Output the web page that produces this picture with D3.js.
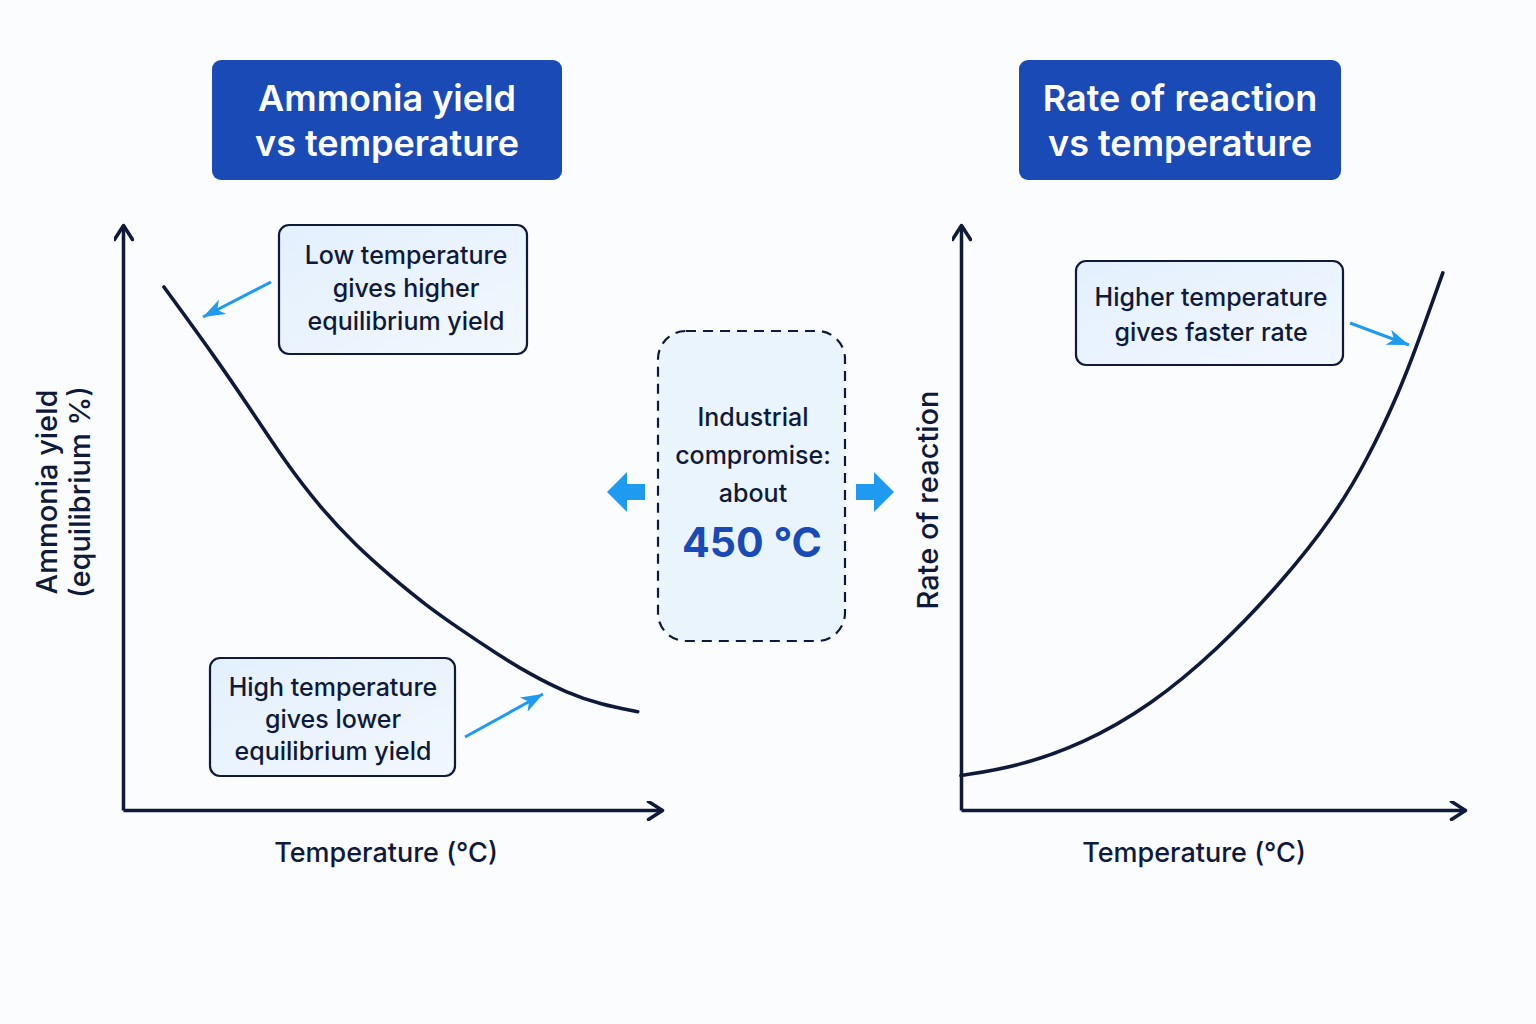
<!DOCTYPE html>
<html>
<head>
<meta charset="utf-8">
<script src="https://cdn.jsdelivr.net/npm/d3@7"></script>
<style>
  body { margin: 0; background: #fbfcfd; }
  svg { display: block; font-family: Inter, "Noto Sans", sans-serif; }
</style>
</head>
<body>
<div id="chart"></div>
<script>
// yield curve (temperature in arbitrary 0-100 units, yield in %)
var yieldTemp = [7.6, 17.1, 23.6, 30.1, 36.5, 43.2, 49.7, 56.2, 62.7, 69.2, 75.7, 82.2, 88.7, 95.5];
var yieldValue = [89.4, 77.4, 68.6, 59.5, 51.8, 45.2, 39.9, 35.0, 30.8, 26.8, 23.1, 20.1, 18.0, 16.8];

// rate curve
var rateTemp = [0, 11.1, 24.2, 37.5, 50.8, 63.9, 73.8, 80.6, 87.1, 90.5, 95.6];
var rateValue = [5.9, 7.4, 11.3, 17.8, 27.3, 39.2, 50.0, 59.8, 71.8, 79.5, 91.8];

var titles = [["Ammonia yield", "vs temperature"], ["Rate of reaction", "vs temperature"]];
var xLabel = "Temperature (°C)";
var yLabels = [["Ammonia yield", "(equilibrium %)"], ["Rate of reaction"]];
var notes = [
    ["Low temperature", "gives higher", "equilibrium yield"],
    ["High temperature", "gives lower", "equilibrium yield"],
    ["Higher temperature", "gives faster rate"]
];
var compromise = ["Industrial", "compromise:", "about"];
var compromiseTemp = "450 °C";

var width = 1536, height = 1024;
var ink = "#0f1a3a", blue = "#1a4ab6", cyan = "#1e9bf0";

var svg = d3.select("#chart").append("svg")
    .attr("width", width)
    .attr("height", height);

var defs = svg.append("defs");
defs.append("marker")
    .attr("id", "chev")
    .attr("viewBox", "0 0 20 20")
    .attr("refX", 17).attr("refY", 10)
    .attr("markerWidth", 20).attr("markerHeight", 20)
    .attr("markerUnits", "userSpaceOnUse")
    .attr("orient", "auto")
    .append("path")
    .attr("d", "M3,1 L17,10 L3,19")
    .attr("fill", "none")
    .attr("stroke", ink)
    .attr("stroke-width", 3.5)
    .attr("stroke-linecap", "round")
    .attr("stroke-linejoin", "round");
defs.append("marker")
    .attr("id", "tri")
    .attr("viewBox", "0 0 24 20")
    .attr("refX", 22).attr("refY", 10)
    .attr("markerWidth", 24).attr("markerHeight", 20)
    .attr("markerUnits", "userSpaceOnUse")
    .attr("orient", "auto")
    .append("path")
    .attr("d", "M0,2 L22,10 L0,18 L6,10 Z")
    .attr("fill", cyan);

var grad = defs.append("linearGradient").attr("id", "paleGrad")
    .attr("x1", 0).attr("y1", 0).attr("x2", 1).attr("y2", 1);
grad.append("stop").attr("offset", "0%").attr("stop-color", "#e3f0fd");
grad.append("stop").attr("offset", "100%").attr("stop-color", "#f1f7fe");

// panels
var panels = [
    { x0: 123, x1: 662, lx: 386, bx: 212, bw: 350, temp: yieldTemp, vals: yieldValue },
    { x0: 961, x1: 1465, lx: 1194, bx: 1019, bw: 322, temp: rateTemp, vals: rateValue }
];
var yTop = 225, yBot = 810;

panels.forEach(function (p, i) {
    var x = d3.scaleLinear().domain([0, 100]).range([p.x0, p.x1]);
    var y = d3.scaleLinear().domain([0, 100]).range([yBot, yTop]);
    p.x = x; p.y = y;

    // title box
    svg.append("rect")
        .attr("x", p.bx).attr("y", 60)
        .attr("width", p.bw).attr("height", 120)
        .attr("rx", 9)
        .attr("fill", blue);
    titles[i].forEach(function (t, j) {
        svg.append("text")
            .attr("text-anchor", "middle")
            .attr("x", p.bx + p.bw / 2)
            .attr("y", 111 + j * 45)
            .attr("fill", "white")
            .style("font-size", "36px")
            .style("font-weight", 600)
            .text(t);
    });

    // axes: bare domain lines with open arrowheads
    var xAxis = svg.append("g")
        .attr("transform", "translate(0," + yBot + ")")
        .call(d3.axisBottom(x).ticks(0).tickSizeOuter(0));
    var yAxis = svg.append("g")
        .attr("transform", "translate(" + p.x0 + ",0)")
        .call(d3.axisLeft(y).ticks(0).tickSizeOuter(0));
    [xAxis, yAxis].forEach(function (a) {
        a.select(".domain")
            .attr("stroke", ink)
            .attr("stroke-width", 3.5)
            .attr("marker-end", "url(#chev)");
    });

    var line = d3.line()
        .x(function (d) { return x(d[0]); })
        .y(function (d) { return y(d[1]); })
        .curve(d3.curveBasis);
    svg.append("path")
        .datum(d3.zip(p.temp, p.vals))
        .attr("d", line)
        .attr("fill", "none")
        .attr("stroke", ink)
        .attr("stroke-width", 3.6)
        .attr("stroke-linecap", "round");

    svg.append("text")
        .attr("text-anchor", "middle")
        .attr("x", p.lx)
        .attr("y", 862)
        .attr("fill", ink)
        .style("font-size", "27px")
        .style("font-weight", 500)
        .text(xLabel);
});

// y labels
var yl = [{ cx: 47, cy: 492, dx: 33 }, { cx: 928, cy: 500, dx: 0 }];
yLabels.forEach(function (lines, i) {
    var g = svg.append("g")
        .attr("transform", "translate(" + yl[i].cx + "," + yl[i].cy + ") rotate(-90)");
    lines.forEach(function (t, j) {
        g.append("text")
            .attr("text-anchor", "middle")
            .attr("x", 0)
            .attr("y", 10 + j * yl[i].dx)
            .attr("fill", ink)
            .style("font-size", "29px")
            .style("font-weight", 500)
            .text(t);
    });
});

// annotation boxes
var boxes = [
    { x: 279, y: 225, w: 248, h: 129, cx: 406, base: 264, gap: 33 },
    { x: 210, y: 658, w: 245, h: 118, cx: 333, base: 696, gap: 32 },
    { x: 1076, y: 261, w: 267, h: 104, cx: 1211, base: 306, gap: 35 }
];
boxes.forEach(function (b, i) {
    svg.append("rect")
        .attr("x", b.x).attr("y", b.y)
        .attr("width", b.w).attr("height", b.h)
        .attr("rx", 10)
        .attr("fill", "url(#paleGrad)")
        .attr("stroke", ink)
        .attr("stroke-width", 2.2);
    notes[i].forEach(function (t, j) {
        svg.append("text")
            .attr("text-anchor", "middle")
            .attr("x", b.cx)
            .attr("y", b.base + j * b.gap)
            .attr("fill", ink)
            .style("font-size", "25px")
            .style("font-weight", 500)
            .text(t);
    });
});

// pointer arrows from notes to curves
var pointers = [
    [panels[0].x.invert(271), panels[0].y.invert(282), panels[0].x.invert(203), panels[0].y.invert(317), 0],
    [panels[0].x.invert(465), panels[0].y.invert(737), panels[0].x.invert(543), panels[0].y.invert(694), 0],
    [panels[1].x.invert(1350), panels[1].y.invert(323), panels[1].x.invert(1409), panels[1].y.invert(345), 1]
];
pointers.forEach(function (p) {
    var pn = panels[p[4]];
    svg.append("line")
        .attr("x1", pn.x(p[0])).attr("y1", pn.y(p[1]))
        .attr("x2", pn.x(p[2])).attr("y2", pn.y(p[3]))
        .attr("stroke", cyan)
        .attr("stroke-width", 3)
        .attr("marker-end", "url(#tri)");
});

// compromise box
svg.append("rect")
    .attr("x", 658).attr("y", 331)
    .attr("width", 187).attr("height", 310)
    .attr("rx", 28)
    .attr("fill", "#eaf4fd")
    .attr("stroke", ink)
    .attr("stroke-width", 2.2)
    .attr("stroke-dasharray", "10 7");
compromise.forEach(function (t, j) {
    svg.append("text")
        .attr("text-anchor", "middle")
        .attr("x", 753)
        .attr("y", 426 + j * 38)
        .attr("fill", ink)
        .style("font-size", "25px")
        .style("font-weight", 500)
        .text(t);
});
svg.append("text")
    .attr("text-anchor", "middle")
    .attr("x", 752)
    .attr("y", 557)
    .attr("fill", blue)
    .style("font-size", "41px")
    .style("font-weight", 700)
    .text(compromiseTemp);

// block arrows either side
var block = "M0,0 L20,-20 L20,-8 L38,-8 L38,8 L20,8 L20,20 Z";
svg.append("path").attr("d", block)
    .attr("transform", "translate(607,492)")
    .attr("fill", cyan);
svg.append("path").attr("d", block)
    .attr("transform", "translate(894,492) scale(-1,1)")
    .attr("fill", cyan);
</script>
</body>
</html>
